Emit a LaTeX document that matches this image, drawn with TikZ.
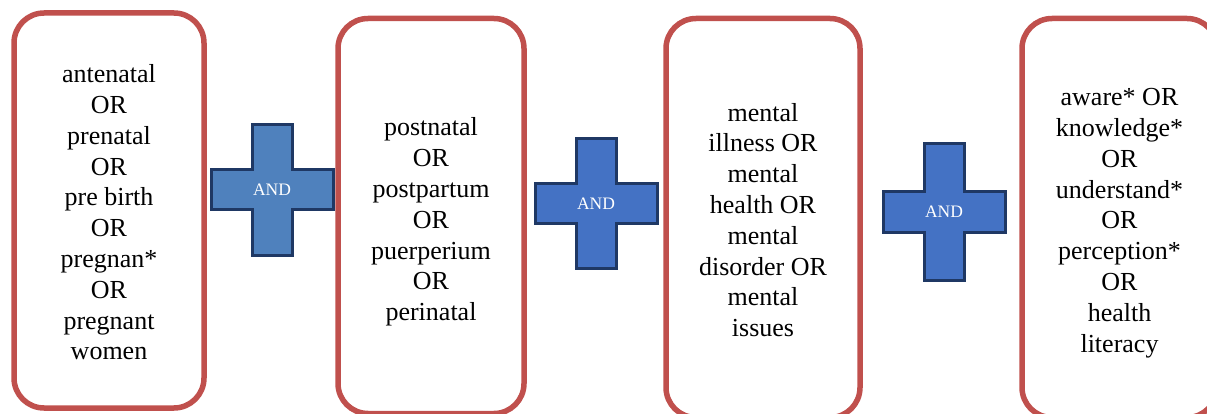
\documentclass[tikz,border=0pt]{standalone}
\usepackage{fontspec}
\setmainfont{Liberation Serif}
\usepackage{xcolor}
\usepackage{tikz}

\definecolor{termred}{HTML}{C0504D}
\definecolor{plusblue}{HTML}{4F81BD}
\definecolor{plusroyal}{HTML}{4472C4}
\definecolor{plusedge}{HTML}{1F3864}

\tikzset{
    termbox/.style={draw=termred, line width=5.5pt, rounded corners=30pt},
    termtext/.style={align=center, font=\fontsize{26}{30.8}\selectfont},
    plusbox/.style={draw=plusedge, line width=3pt, line join=miter},
    andtext/.style={text=white, font=\fontsize{17.5}{20}\selectfont}
}

\begin{document}
\begin{tikzpicture}[x=1pt, y=-1pt]
    \clip (0,0) rectangle (1207,414);

    \node[termbox, minimum width=190pt, minimum height=395pt] (T1) at (109, 210.5) {};
    \node[termbox, minimum width=186pt, minimum height=395pt] (T2) at (431, 216) {};
    \node[termbox, minimum width=194pt, minimum height=399pt] (T3) at (763, 218) {};
    \node[termbox, minimum width=195pt, minimum height=399pt] (T4) at (1119.5, 218) {};

    \node[termtext] (L1) at ([yshift=-2pt]T1.center)
        {antenatal\\OR\\prenatal\\OR\\pre birth\\OR\\pregnan*\\OR\\pregnant\\women};
    \node[termtext] (L2) at ([yshift=-6pt]T2.center)
        {postnatal\\OR\\postpartum\\OR\\puerperium\\OR\\perinatal};
    \node[termtext] (L3) at ([yshift=-2pt]T3.center)
        {mental\\illness OR\\mental\\health OR\\mental\\disorder OR\\mental\\issues};
    \node[termtext] (L4) at ([yshift=-5pt]T4.center)
        {aware* OR\\knowledge*\\OR\\understand*\\OR\\perception*\\OR\\health\\literacy};

    % plus signs between the boxes
    \coordinate (P1) at (272, 190);
    \coordinate (P2) at (596, 203.5);
    \coordinate (P3) at (944, 212);

    \draw[plusbox, fill=plusblue] (P1) ++(-20,-65) -- ++(40,0) -- ++(0,45) -- ++(41,0) -- ++(0,40)
        -- ++(-41,0) -- ++(0,45) -- ++(-40,0) -- ++(0,-45) -- ++(-41,0) -- ++(0,-40) -- ++(41,0) -- cycle;
    \draw[plusbox, fill=plusroyal] (P2) ++(-20,-65) -- ++(40,0) -- ++(0,45) -- ++(41,0) -- ++(0,40)
        -- ++(-41,0) -- ++(0,45) -- ++(-40,0) -- ++(0,-45) -- ++(-41,0) -- ++(0,-40) -- ++(41,0) -- cycle;
    \draw[plusbox, fill=plusroyal] (P3) ++(-20,-68) -- ++(40,0) -- ++(0,48) -- ++(41,0) -- ++(0,40)
        -- ++(-41,0) -- ++(0,48) -- ++(-40,0) -- ++(0,-48) -- ++(-41,0) -- ++(0,-40) -- ++(41,0) -- cycle;

    \node[andtext] (A1) at (P1) {AND};
    \node[andtext] (A2) at (P2) {AND};
    \node[andtext] (A3) at (P3) {AND};
\end{tikzpicture}
\end{document}
